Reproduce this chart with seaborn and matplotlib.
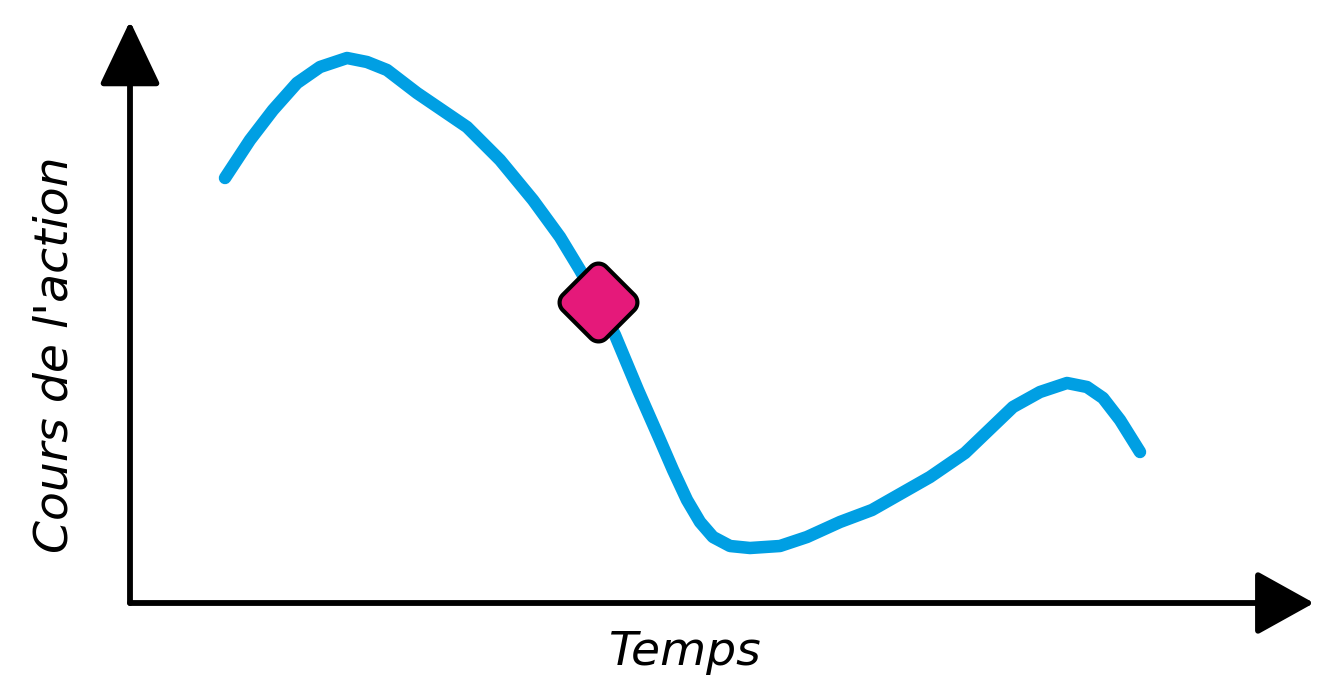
import numpy as np
import seaborn as sns
import matplotlib.pyplot as plt
from matplotlib.path import Path
from matplotlib.markers import MarkerStyle

# courbe du cours (unités arbitraires)
temps = [9.5, 12.0, 14.3, 16.7, 19.0, 21.7, 23.7, 25.7, 28.7, 33.7, 37.0, 40.3,
         43.0, 45.0, 46.8, 48.5, 50.8, 53.0, 54.3, 55.7, 57.0, 58.3, 60.0, 62.0,
         65.0, 67.7, 71.0, 74.2, 80.0, 83.5, 88.3, 91.0, 93.7, 95.7, 97.3, 99.0,
         101.0]
cours = [42.5, 46.3, 49.3, 52.0, 53.6, 54.5, 54.1, 53.3, 51.0, 47.6, 44.3, 40.3,
         36.6, 33.3, 30.1, 26.8, 21.3, 16.3, 13.3, 10.3, 8.1, 6.6, 5.7, 5.5,
         5.7, 6.6, 8.1, 9.3, 12.6, 15.0, 19.6, 21.1, 22.0, 21.6, 20.5, 18.3,
         15.1]

# point mis en évidence
point_t = [46.8]
point_c = [30.1]

xlabel = "Temps"
ylabel = "Cours de l'action"

bleu = "#009FE3"
rose = "#E5197A"

sns.set_style("white")
plt.rcParams["font.family"] = ["DejaVu Sans"]

fig = plt.figure(figsize=(13.17, 6.78), dpi=100)
ax = fig.add_axes([0, 0, 1, 1])
ax.set_xlim(-13, 118.7)
ax.set_ylim(-7.5, 60.3)
ax.axis("off")

# axes fléchés
arrow = dict(arrowstyle="-|>,head_length=1.8,head_width=1.0", mutation_scale=20,
             lw=4.2, color="black", shrinkA=0, shrinkB=0, joinstyle="round")
ax.annotate("", xy=(118.4, 0), xytext=(0, 0), arrowprops=arrow)
arrow_y = dict(arrow, arrowstyle="-|>,head_length=2.0,head_width=0.95")
ax.annotate("", xy=(0, 58.2), xytext=(0, 0), arrowprops=arrow_y)

# courbe
sns.lineplot(x=temps, y=cours, ax=ax, color=bleu, lw=9, sort=False,
             solid_capstyle="round", solid_joinstyle="round", zorder=2)

# losange aux coins arrondis
r = 0.35
pts = []
for cx, cy, a0 in [(1 - r, 1 - r, 0), (-1 + r, 1 - r, 90), (-1 + r, -1 + r, 180), (1 - r, -1 + r, 270)]:
    ang = np.radians(np.linspace(a0, a0 + 90, 12))
    pts += list(zip(cx + r * np.cos(ang), cy + r * np.sin(ang)))
pts = np.array(pts)
rot = np.radians(45)
pts = pts @ np.array([[np.cos(rot), np.sin(rot)], [-np.sin(rot), np.cos(rot)]])
pts = np.vstack([pts, pts[:1]])
diamond = MarkerStyle(Path(pts, closed=True))

sns.scatterplot(x=point_t, y=point_c, ax=ax, marker=diamond, s=56**2,
                color=rose, edgecolor="black", linewidth=3, zorder=3)

ax.text(55.5, -6.2, xlabel, fontsize=34, style="italic", color="black",
        ha="center", va="baseline")
ax.text(-7.5, 24.8, ylabel, fontsize=34, style="italic", color="black",
        rotation=90, ha="center", va="center")

fig.savefig("out.png", dpi=100, facecolor="white")
